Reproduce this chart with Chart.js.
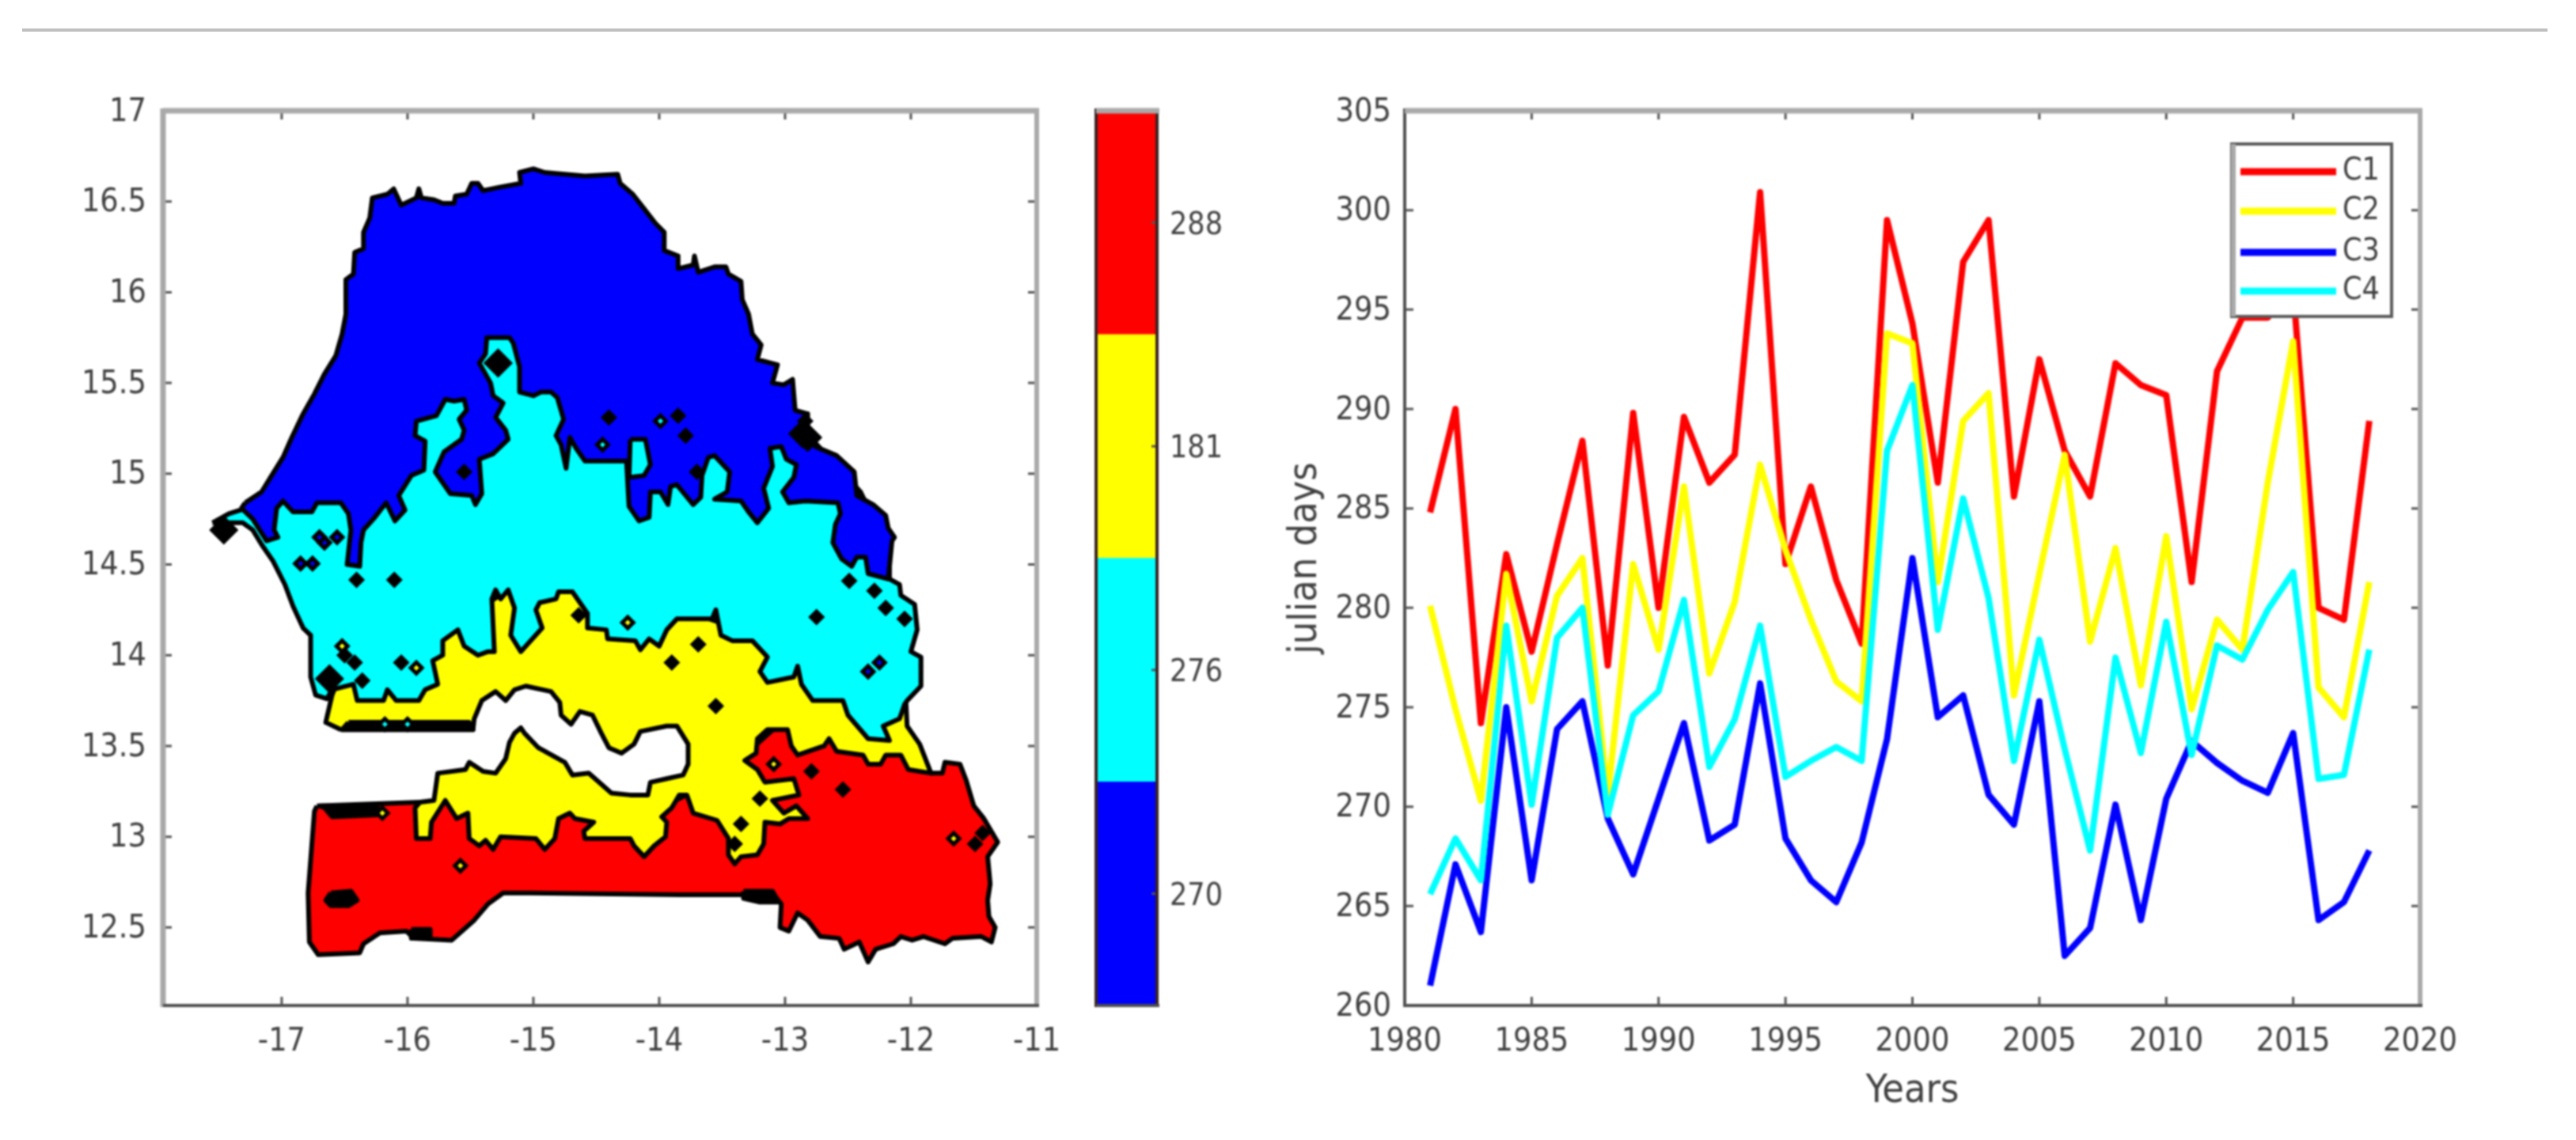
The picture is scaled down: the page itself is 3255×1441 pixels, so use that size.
<!DOCTYPE html>
<html>
<head>
<meta charset="utf-8">
<title>Senegal map and julian days</title>
<script src="https://cdn.jsdelivr.net/npm/chart.js@4"></script>
<style>
    html, body { margin: 0; padding: 0; background: #fff; }
    #page { position: relative; width: 3255px; height: 1441px; overflow: hidden; background: #fff; }
    #page canvas { position: absolute; left: 0; top: 0; filter: blur(1.2px); }
    #rule { position: absolute; left: 28px; top: 36px; width: 3191px; height: 4px; background: #c0c0c0; }
</style>
</head>
<body>
<div id="page">
    <div id="rule"></div>
    <canvas id="mapChart" width="3255" height="1441"></canvas>
    <canvas id="barChart" width="3255" height="1441"></canvas>
    <canvas id="lineChart" width="3255" height="1441"></canvas>
</div>
<script>
// line chart values
const years = [1981, 1982, 1983, 1984, 1985, 1986, 1987, 1988, 1989, 1990, 1991, 1992, 1993, 1994, 1995, 1996, 1997, 1998, 1999,
    2000, 2001, 2002, 2003, 2004, 2005, 2006, 2007, 2008, 2009, 2010, 2011, 2012, 2013, 2014, 2015, 2016, 2017, 2018];
const c1Days = [284.8, 290.0, 274.2, 282.7, 277.8, 283.2, 288.4, 277.1, 289.8, 280.0, 289.6, 286.3, 287.7, 300.9, 282.2, 286.1, 281.4, 278.2, 299.5,
    294.3, 286.3, 297.4, 299.5, 285.6, 292.5, 287.9, 285.6, 292.3, 291.2, 290.7, 281.3, 291.9, 294.6, 294.6, 296.0, 280.0, 279.4, 289.4];
const c2Days = [280.1, 274.9, 270.3, 281.7, 275.3, 280.6, 282.5, 270.6, 282.2, 277.9, 286.1, 276.7, 280.3, 287.2, 282.9, 279.4, 276.3, 275.3, 293.8,
    293.3, 281.3, 289.4, 290.8, 275.6, 281.7, 287.7, 278.3, 283.0, 276.1, 283.6, 274.9, 279.4, 277.9, 286.3, 293.4, 276.0, 274.5, 281.3];
const c3Days = [261.0, 267.1, 263.7, 275.0, 266.3, 273.9, 275.3, 269.4, 266.6, 270.4, 274.2, 268.3, 269.1, 276.2, 268.4, 266.3, 265.2, 268.2, 273.4,
    282.5, 274.5, 275.6, 270.6, 269.1, 275.3, 262.5, 263.9, 270.1, 264.3, 270.4, 273.3, 272.2, 271.3, 270.7, 273.7, 264.3, 265.2, 267.8];
const c4Days = [265.6, 268.4, 266.3, 279.1, 270.1, 278.5, 280.0, 269.6, 274.6, 275.8, 280.4, 272.0, 274.4, 279.1, 271.5, 272.3, 273.0, 272.3, 287.9,
    291.2, 278.9, 285.5, 280.5, 272.3, 278.4, 272.9, 267.8, 277.5, 272.7, 279.3, 272.6, 278.1, 277.4, 279.9, 281.8, 271.4, 271.6, 277.9];
const yearTicks = [1980, 1985, 1990, 1995, 2000, 2005, 2010, 2015, 2020];
const dayTicks = [260, 265, 270, 275, 280, 285, 290, 295, 300, 305];

// colour bar
const barLabels = ['270', '276', '181', '288'];
const barSegments = [1, 1, 1, 1];
const barTicks = [0.5, 1.5, 2.5, 3.5];

// map axes
const lonTicks = [-17, -16, -15, -14, -13, -12, -11];
const latTicks = [12.5, 13, 13.5, 14, 14.5, 15, 15.5, 16, 16.5, 17];

// map regions as [lon, lat], painted south to north so each one covers the
// rough edge of the one before it
const redRegion = [[-16.72,13.17],[-16.74,13.14],[-16.77,12.87],[-16.79,12.69],[-16.78,12.42],[-16.71,12.35],[-16.38,12.36],[-16.35,12.41],
    [-16.22,12.47],[-16.01,12.48],[-15.95,12.44],[-15.65,12.43],[-15.47,12.54],[-15.36,12.63],[-15.24,12.69],[-15.03,12.69],[-13.83,12.68],
    [-13.35,12.68],[-13.10,12.69],[-13.03,12.63],[-13.04,12.50],[-12.97,12.48],[-12.90,12.58],[-12.82,12.54],[-12.72,12.45],[-12.57,12.44],
    [-12.53,12.38],[-12.41,12.42],[-12.34,12.31],[-12.28,12.38],[-12.14,12.41],[-12.08,12.45],[-11.99,12.43],[-11.90,12.45],[-11.73,12.41],
    [-11.67,12.44],[-11.44,12.45],[-11.36,12.42],[-11.33,12.50],[-11.38,12.56],[-11.39,12.65],[-11.37,12.74],[-11.39,12.89],[-11.31,12.97],
    [-11.42,13.10],[-11.50,13.17],[-11.56,13.31],[-11.61,13.40],[-11.73,13.41],[-11.75,13.35],[-11.84,13.35],[-12.10,13.55],[-13.00,13.65],
    [-13.40,13.40],[-13.60,13.30],[-14.00,13.15],[-15.00,13.20],[-15.60,13.25],[-15.85,13.15],[-15.90,13.19]];

const yellowRegion = [[-16.53,13.59],[-15.48,13.59],[-15.47,13.65],[-15.41,13.75],[-15.30,13.80],[-15.22,13.75],[-15.15,13.81],[-15.06,13.83],
    [-14.86,13.80],[-14.79,13.74],[-14.78,13.67],[-14.70,13.62],[-14.63,13.69],[-14.53,13.67],[-14.46,13.57],[-14.40,13.49],[-14.30,13.46],
    [-14.20,13.51],[-14.15,13.58],[-13.94,13.61],[-13.86,13.61],[-13.77,13.51],[-13.77,13.40],[-13.81,13.34],[-13.94,13.32],[-14.07,13.30],
    [-14.09,13.23],[-14.23,13.23],[-14.38,13.24],[-14.51,13.32],[-14.56,13.35],[-14.69,13.34],[-14.75,13.41],[-14.96,13.49],[-15.07,13.57],
    [-15.10,13.60],[-15.15,13.57],[-15.19,13.52],[-15.22,13.43],[-15.30,13.35],[-15.40,13.36],[-15.51,13.41],[-15.54,13.37],[-15.76,13.35],
    [-15.79,13.20],[-15.90,13.19],[-15.94,13.16],[-15.93,12.99],[-15.82,12.99],[-15.81,13.08],[-15.70,13.20],[-15.61,13.10],[-15.52,13.13],
    [-15.51,12.99],[-15.43,12.95],[-15.38,12.98],[-15.32,12.93],[-15.26,13.00],[-14.98,12.99],[-14.91,12.93],[-14.83,12.99],[-14.80,13.10],
    [-14.71,13.13],[-14.67,13.10],[-14.52,13.08],[-14.60,13.03],[-14.59,12.99],[-14.23,12.99],[-14.20,12.95],[-14.12,12.89],[-14.04,12.95],
    [-13.95,13.00],[-13.94,13.08],[-13.98,13.11],[-13.90,13.16],[-13.84,13.23],[-13.78,13.23],[-13.73,13.13],[-13.54,13.09],[-13.45,12.99],
    [-13.45,12.90],[-13.40,12.85],[-13.35,12.89],[-13.22,12.90],[-13.17,12.96],[-13.16,13.08],[-13.04,13.07],[-12.97,13.10],[-12.82,13.10],
    [-12.91,13.17],[-13.01,13.13],[-13.10,13.20],[-12.89,13.23],[-12.93,13.32],[-13.16,13.30],[-13.22,13.37],[-13.32,13.42],[-13.23,13.46],
    [-13.22,13.54],[-13.14,13.59],[-12.98,13.59],[-12.95,13.50],[-12.90,13.45],[-12.69,13.50],[-12.65,13.54],[-12.59,13.47],[-12.38,13.45],
    [-12.34,13.40],[-12.24,13.40],[-12.20,13.45],[-12.08,13.45],[-12.02,13.37],[-11.84,13.35],[-11.93,13.51],[-12.03,13.61],[-12.04,13.75],
    [-12.20,13.80],[-13.00,14.05],[-14.00,14.30],[-15.00,14.45],[-16.00,14.00],[-16.50,13.95],[-16.60,13.78],[-16.65,13.63]];

const cyanRegion = [[-17.55,14.73],[-17.31,14.73],[-17.23,14.69],[-17.16,14.61],[-17.07,14.52],[-16.975,14.39],[-16.91,14.27],[-16.83,14.15],
    [-16.77,14.11],[-16.77,13.88],[-16.73,13.78],[-16.64,13.76],[-16.60,13.81],[-16.43,13.84],[-16.40,13.75],[-16.19,13.75],[-16.16,13.81],
    [-16.09,13.75],[-15.91,13.75],[-15.86,13.81],[-15.76,13.84],[-15.80,13.97],[-15.72,14.00],[-15.72,14.08],[-15.60,14.14],[-15.55,14.05],
    [-15.44,14.00],[-15.36,14.02],[-15.31,14.02],[-15.33,14.31],[-15.30,14.36],[-15.26,14.31],[-15.20,14.36],[-15.15,14.26],[-15.18,14.11],
    [-15.10,14.02],[-14.93,14.15],[-14.98,14.25],[-14.95,14.29],[-14.82,14.31],[-14.80,14.35],[-14.69,14.35],[-14.57,14.23],[-14.57,14.15],
    [-14.42,14.14],[-14.41,14.09],[-14.19,14.08],[-14.15,14.03],[-14.08,14.09],[-14.00,14.05],[-13.94,14.14],[-13.86,14.20],[-13.58,14.20],
    [-13.55,14.25],[-13.51,14.11],[-13.42,14.08],[-13.26,14.08],[-13.14,13.99],[-13.20,13.91],[-13.14,13.85],[-12.93,13.88],[-12.90,13.94],
    [-12.87,13.84],[-12.78,13.75],[-12.54,13.75],[-12.50,13.67],[-12.34,13.54],[-12.17,13.53],[-12.22,13.61],[-12.09,13.65],[-12.05,13.73],
    [-12.03,13.75],[-11.92,13.83],[-11.92,13.99],[-12.00,14.02],[-11.95,14.14],[-11.97,14.28],[-12.08,14.33],[-12.09,14.39],[-12.17,14.42],
    [-12.17,14.57],[-12.40,14.90],[-13.20,15.50],[-15.00,15.90],[-15.60,15.80],[-16.40,15.20],[-17.10,14.85],[-17.42,14.78]];

const blueRegion = [[-17.29,14.84],[-17.16,14.90],[-17.08,14.99],[-16.99,15.09],[-16.92,15.20],[-16.83,15.33],[-16.74,15.44],[-16.66,15.55],
    [-16.57,15.65],[-16.52,15.77],[-16.49,15.88],[-16.49,16.07],[-16.43,16.10],[-16.42,16.22],[-16.35,16.24],[-16.35,16.33],[-16.30,16.41],
    [-16.28,16.52],[-16.16,16.54],[-16.11,16.57],[-16.05,16.48],[-15.93,16.52],[-15.91,16.57],[-15.89,16.52],[-15.79,16.51],[-15.72,16.49],
    [-15.63,16.49],[-15.62,16.53],[-15.53,16.54],[-15.49,16.60],[-15.44,16.60],[-15.40,16.56],[-15.26,16.58],[-15.10,16.60],[-15.11,16.66],
    [-15.00,16.68],[-14.91,16.66],[-14.75,16.65],[-14.59,16.64],[-14.33,16.65],[-14.31,16.60],[-14.21,16.54],[-14.12,16.46],[-14.03,16.38],
    [-13.96,16.33],[-13.96,16.23],[-13.85,16.20],[-13.85,16.13],[-13.73,16.15],[-13.72,16.20],[-13.69,16.11],[-13.56,16.14],[-13.47,16.14],
    [-13.45,16.10],[-13.35,16.06],[-13.34,15.96],[-13.29,15.88],[-13.26,15.77],[-13.19,15.71],[-13.22,15.63],[-13.06,15.60],[-13.10,15.50],
    [-13.01,15.49],[-12.94,15.52],[-12.92,15.35],[-12.82,15.33],[-12.82,15.24],[-12.77,15.22],[-12.76,15.15],[-12.59,15.10],[-12.45,15.01],
    [-12.43,14.88],[-12.30,14.83],[-12.20,14.77],[-12.18,14.70],[-12.13,14.65],[-12.15,14.63],[-12.18,14.42],[-12.34,14.45],[-12.36,14.54],
    [-12.43,14.54],[-12.47,14.49],[-12.55,14.53],[-12.62,14.62],[-12.60,14.72],[-12.56,14.78],[-12.58,14.84],[-12.84,14.85],[-12.97,14.84],
    [-13.02,14.90],[-12.93,14.98],[-12.91,15.05],[-12.99,15.08],[-13.03,15.15],[-13.12,15.14],[-13.10,15.04],[-13.17,14.92],[-13.13,14.81],
    [-13.22,14.73],[-13.29,14.79],[-13.35,14.85],[-13.56,14.86],[-13.46,14.90],[-13.44,15.01],[-13.56,15.10],[-13.61,15.09],[-13.66,14.99],
    [-13.67,14.87],[-13.73,14.83],[-13.86,14.94],[-13.91,14.93],[-13.93,14.83],[-13.99,14.90],[-14.07,14.90],[-14.08,14.76],[-14.16,14.74],
    [-14.24,14.82],[-14.26,15.07],[-14.59,15.07],[-14.66,15.14],[-14.71,15.20],[-14.74,15.03],[-14.78,15.16],[-14.82,15.21],[-14.76,15.30],
    [-14.81,15.42],[-14.86,15.45],[-14.94,15.45],[-15.00,15.43],[-15.11,15.45],[-15.11,15.59],[-15.16,15.72],[-15.19,15.75],[-15.37,15.75],
    [-15.38,15.66],[-15.43,15.61],[-15.34,15.50],[-15.32,15.43],[-15.24,15.39],[-15.30,15.31],[-15.22,15.24],[-15.20,15.19],[-15.32,15.11],
    [-15.43,15.08],[-15.41,14.89],[-15.46,14.83],[-15.49,14.88],[-15.66,14.89],[-15.78,15.01],[-15.71,15.12],[-15.57,15.19],[-15.55,15.24],
    [-15.59,15.30],[-15.53,15.35],[-15.55,15.41],[-15.63,15.40],[-15.70,15.41],[-15.77,15.32],[-15.93,15.29],[-15.94,15.21],[-15.86,15.18],
    [-15.87,15.02],[-15.97,14.99],[-16.07,14.88],[-16.02,14.80],[-16.10,14.74],[-16.17,14.84],[-16.26,14.76],[-16.35,14.69],[-16.37,14.62],
    [-16.38,14.49],[-16.48,14.50],[-16.45,14.69],[-16.47,14.78],[-16.53,14.84],[-16.72,14.84],[-16.76,14.79],[-16.91,14.79],[-16.99,14.85],
    [-17.04,14.81],[-17.06,14.69],[-17.03,14.65],[-17.12,14.63],[-17.23,14.75],[-17.32,14.81]];

// small closed patches on top of the regions
const cyanIsland = [[-14.23,15.19],[-14.11,15.19],[-14.07,15.05],[-14.12,14.99],[-14.24,14.98]];
const blackPatches = [
    [[-16.70,13.17],[-16.24,13.17],[-16.24,13.12],[-16.60,13.11],[-16.66,13.16]],
    [[-16.61,12.69],[-16.45,12.70],[-16.40,12.65],[-16.47,12.62],[-16.61,12.62],[-16.65,12.65]],
    [[-16.47,13.63],[-15.51,13.63],[-15.48,13.59],[-16.52,13.59]],
    [[-15.97,12.49],[-15.82,12.49],[-15.82,12.44],[-15.97,12.44]],
    [[-13.33,12.70],[-13.10,12.70],[-13.05,12.64],[-13.20,12.64],[-13.33,12.66]]
];

// isolated contour specks
const blackSpots = [[-16.405,14.415],[-16.105,14.415],[-16.05,13.96],[-16.36,13.86],[-16.42,13.96],[-16.50,14.00],[-13.90,13.96],[-14.64,14.22],
    [-13.69,14.06],[-13.55,13.72],[-12.49,14.41],[-12.29,14.355],[-12.20,14.26],[-12.75,14.21],[-12.05,14.20],[-12.79,13.36],[-12.54,13.26],
    [-13.20,13.21],[-13.35,13.07],[-13.40,12.96],[-11.49,12.96],[-11.43,13.02],[-14.40,15.31],[-13.85,15.32],[-13.79,15.21],[-13.70,15.01],
    [-12.84,15.29],[-15.55,15.01]];
const blackBlobs = [[-17.46,14.69],[-16.62,13.87],[-15.28,15.61],[-12.82,15.20],[-12.86,15.22]];
const blueSpots = [[-16.85,14.505],[-16.755,14.505],[-16.66,14.62],[-16.70,14.65],[-16.56,14.65],[-12.25,13.96],[-12.34,13.91]];
const yellowSpots = [[-16.52,14.05],[-15.93,13.93],[-14.25,14.18],[-15.58,12.84],[-16.20,13.13],[-13.09,13.40],[-11.66,12.99]];
const cyanSpots = [[-16.18,13.62],[-16.00,13.62],[-14.45,15.16],[-13.99,15.29]];

const TEXT_COLOR = '#404040';
const FRAME_LIGHT = '#aaaaaa';
const FRAME_DARK = '#4f4f4f';
const FONT_FAMILY = '"DejaVu Sans Condensed", "DejaVu Sans"';
const TICK_FONT = { family: FONT_FAMILY, size: 41 };
const BAR_FONT = { family: FONT_FAMILY, size: 39 };
const TITLE_FONT = { family: FONT_FAMILY, size: 50 };
const CANVAS_W = 3255;
const CANVAS_H = 1441;

function toPoints(pairs) {
    return pairs.map(p => ({ x: p[0], y: p[1] }));
}

function regionDataset(pairs, color, order) {
    return {
        data: toPoints(pairs.concat([pairs[0]])),
        showLine: true,
        fill: 'shape',
        tension: 0,
        backgroundColor: color,
        borderColor: '#000000',
        borderWidth: 6,
        borderJoinStyle: 'round',
        pointRadius: 0,
        order: order
    };
}

function spotDataset(pairs, color, radius, order) {
    return {
        data: toPoints(pairs),
        showLine: false,
        pointStyle: 'rectRot',
        pointRadius: radius,
        pointBackgroundColor: color,
        pointBorderColor: '#000000',
        pointBorderWidth: 5,
        order: order
    };
}

// axis box with ticks pointing inward on all four sides, like the original figure
const boxPlugin = {
    id: 'boxPlugin',
    afterDatasetsDraw(chart, args, opts) {
        const { ctx, chartArea: a, scales } = chart;
        const xScale = scales[opts.xId];
        const yScale = scales[opts.yId];
        ctx.save();
        ctx.lineCap = 'butt';
        ctx.strokeStyle = '#555555';
        ctx.lineWidth = 3;
        const len = opts.tickLen;
        if (xScale) {
            xScale.ticks.forEach(t => {
                const px = xScale.getPixelForValue(t.value);
                ctx.beginPath();
                ctx.moveTo(px, a.top); ctx.lineTo(px, a.top + len);
                ctx.moveTo(px, a.bottom); ctx.lineTo(px, a.bottom - len);
                ctx.stroke();
            });
        }
        yScale.ticks.forEach(t => {
            const py = yScale.getPixelForValue(t.value);
            ctx.beginPath();
            if (opts.bothSides) {
                ctx.moveTo(a.left, py); ctx.lineTo(a.left + len, py);
            }
            ctx.moveTo(a.right, py); ctx.lineTo(a.right - len, py);
            ctx.stroke();
        });
        const side = (color, width, x0, y0, x1, y1) => {
            ctx.strokeStyle = color;
            ctx.lineWidth = width;
            ctx.beginPath();
            ctx.moveTo(x0, y0);
            ctx.lineTo(x1, y1);
            ctx.stroke();
        };
        side(opts.leftColor, opts.leftWidth, a.left, a.top - 3, a.left, a.bottom + 2);
        side(opts.rightColor, opts.rightWidth, a.right, a.top - 3, a.right, a.bottom + 2);
        side(FRAME_LIGHT, 7, a.left, a.top, a.right + 3, a.top);
        side(FRAME_DARK, 4, a.left, a.bottom, a.right + 3, a.bottom);
        ctx.restore();
    }
};

// legend box inside the axes, with the entries in dataset label order
const legendBoxPlugin = {
    id: 'legendBoxPlugin',
    afterDatasetsDraw(chart, args, opts) {
        if (!opts.rows) return;
        const ctx = chart.ctx;
        const entries = chart.data.datasets.slice().sort((a, b) => a.label.localeCompare(b.label));
        ctx.save();
        ctx.fillStyle = '#ffffff';
        ctx.fillRect(opts.left, opts.top, opts.width, opts.height);
        ctx.strokeStyle = '#5a5a5a';
        ctx.lineWidth = 4;
        ctx.strokeRect(opts.left, opts.top, opts.width, opts.height);
        ctx.strokeStyle = FRAME_LIGHT;
        ctx.lineWidth = 6;
        ctx.beginPath();
        ctx.moveTo(opts.left + 2, opts.top);
        ctx.lineTo(opts.left + 2, opts.top + opts.height);
        ctx.stroke();
        ctx.font = '39px ' + FONT_FAMILY;
        ctx.textBaseline = 'middle';
        entries.forEach((d, i) => {
            ctx.strokeStyle = d.borderColor;
            ctx.lineWidth = 9;
            ctx.beginPath();
            ctx.moveTo(opts.left + 11, opts.rows[i]);
            ctx.lineTo(opts.left + 132, opts.rows[i]);
            ctx.stroke();
            ctx.fillStyle = TEXT_COLOR;
            ctx.fillText(d.label, opts.left + 140, opts.rows[i]);
        });
        ctx.restore();
    }
};

Chart.register(boxPlugin, legendBoxPlugin);

const baseOptions = {
    responsive: false,
    devicePixelRatio: 1,
    animation: false,
    events: [],
    plugins: { legend: { display: false }, tooltip: { enabled: false } }
};

// map
new Chart(document.getElementById('mapChart'), {
    type: 'scatter',
    data: {
        datasets: [
            regionDataset(redRegion, '#ff0000', 20),
            regionDataset(yellowRegion, '#ffff00', 19),
            regionDataset(cyanRegion, '#00ffff', 18),
            regionDataset(blueRegion, '#0000ff', 17),
            regionDataset(cyanIsland, '#00ffff', 16),
            ...blackPatches.map(p => regionDataset(p, '#000000', 15)),
            spotDataset(blackSpots, '#000000', 7, 5),
            spotDataset(blackBlobs, '#000000', 15, 4),
            spotDataset(blueSpots, '#0000ff', 7, 3),
            spotDataset(yellowSpots, '#ffff00', 7, 2),
            spotDataset(cyanSpots, '#00ffff', 7, 1)
        ]
    },
    options: {
        ...baseOptions,
        layout: { autoPadding: false, padding: { left: 0, top: 140, right: CANVAS_W - 1310, bottom: CANVAS_H - 1271 - 110 } },
        scales: {
            x: {
                type: 'linear', min: -17.943, max: -11,
                afterFit: s => { s.height = 110; },
                afterBuildTicks: s => { s.ticks = lonTicks.map(v => ({ value: v })); },
                grid: { display: false, drawTicks: false },
                border: { display: false },
                ticks: { color: TEXT_COLOR, font: TICK_FONT, padding: 22, maxRotation: 0, autoSkip: false, callback: v => String(v) }
            },
            y: {
                type: 'linear', min: 12.07, max: 17,
                afterFit: s => { s.width = 206; },
                afterBuildTicks: s => { s.ticks = latTicks.map(v => ({ value: v })); },
                grid: { display: false, drawTicks: false },
                border: { display: false },
                ticks: { color: TEXT_COLOR, font: TICK_FONT, padding: 21, labelOffset: 2, autoSkip: false, callback: v => String(v) }
            }
        },
        plugins: {
            ...baseOptions.plugins,
            boxPlugin: { xId: 'x', yId: 'y', tickLen: 11, bothSides: true, leftColor: '#a8a8a8', leftWidth: 7, rightColor: FRAME_LIGHT, rightWidth: 6 }
        }
    }
});

// colour bar
const barColors = ['#0000ff', '#00ffff', '#ffff00', '#ff0000'];
new Chart(document.getElementById('barChart'), {
    type: 'bar',
    data: {
        labels: ['bar'],
        datasets: barSegments.map((v, i) => ({
            label: barLabels[i],
            data: [v],
            backgroundColor: barColors[i],
            borderWidth: 0,
            barPercentage: 1,
            categoryPercentage: 1
        }))
    },
    options: {
        ...baseOptions,
        layout: { autoPadding: false, padding: { left: 1385, top: 140, right: CANVAS_W - 1462 - 120, bottom: CANVAS_H - 1271 } },
        scales: {
            x: { stacked: true, display: false },
            y: {
                stacked: true, position: 'right', type: 'linear', min: 0, max: 4,
                afterFit: s => { s.width = 120; },
                afterBuildTicks: s => { s.ticks = barTicks.map(v => ({ value: v })); },
                grid: { display: false, drawTicks: false },
                border: { display: false },
                ticks: { color: TEXT_COLOR, font: BAR_FONT, padding: 16, labelOffset: 4, autoSkip: false, callback: (v, i) => barLabels[i] }
            }
        },
        plugins: {
            ...baseOptions.plugins,
            boxPlugin: { yId: 'y', tickLen: 7, bothSides: false, leftColor: '#3a2222', leftWidth: 4, rightColor: '#3a2222', rightWidth: 4 }
        }
    }
});

// julian days lines, C4 painted last as in the original
function lineDataset(label, values, color, order) {
    return {
        label: label,
        data: years.map((y, i) => ({ x: y, y: values[i] })),
        borderColor: color,
        backgroundColor: color,
        borderWidth: 8,
        borderJoinStyle: 'round',
        pointRadius: 0,
        tension: 0,
        fill: false,
        order: order
    };
}

new Chart(document.getElementById('lineChart'), {
    type: 'line',
    data: {
        datasets: [
            lineDataset('C1', c1Days, '#ff0000', 4),
            lineDataset('C2', c2Days, '#ffff00', 3),
            lineDataset('C3', c3Days, '#0000ff', 2),
            lineDataset('C4', c4Days, '#00ffff', 1)
        ]
    },
    options: {
        ...baseOptions,
        layout: { autoPadding: false, padding: { left: 1620, top: 140, right: CANVAS_W - 3058, bottom: 31 } },
        scales: {
            x: {
                type: 'linear', min: 1980, max: 2020,
                afterFit: s => { s.height = 139; },
                afterBuildTicks: s => { s.ticks = yearTicks.map(v => ({ value: v })); },
                grid: { display: false, drawTicks: false },
                border: { display: false },
                title: { display: true, text: 'Years', color: TEXT_COLOR, font: TITLE_FONT, padding: 0 },
                ticks: { color: TEXT_COLOR, font: TICK_FONT, padding: 22, maxRotation: 0, autoSkip: false, callback: v => String(v) }
            },
            y: {
                type: 'linear', min: 260, max: 305,
                afterFit: s => { s.width = 155; },
                afterBuildTicks: s => { s.ticks = dayTicks.map(v => ({ value: v })); },
                grid: { display: false, drawTicks: false },
                border: { display: false },
                title: { display: true, text: 'julian days', color: TEXT_COLOR, font: TITLE_FONT, padding: 0 },
                ticks: { color: TEXT_COLOR, font: TICK_FONT, padding: 17, labelOffset: 2, autoSkip: false, callback: v => String(v) }
            }
        },
        plugins: {
            ...baseOptions.plugins,
            boxPlugin: { xId: 'x', yId: 'y', tickLen: 11, bothSides: true, leftColor: FRAME_DARK, leftWidth: 4, rightColor: FRAME_LIGHT, rightWidth: 6 },
            legendBoxPlugin: { left: 2820, top: 182, width: 202, height: 218, rows: [217, 267, 319, 368] }
        }
    }
});
</script>
</body>
</html>
